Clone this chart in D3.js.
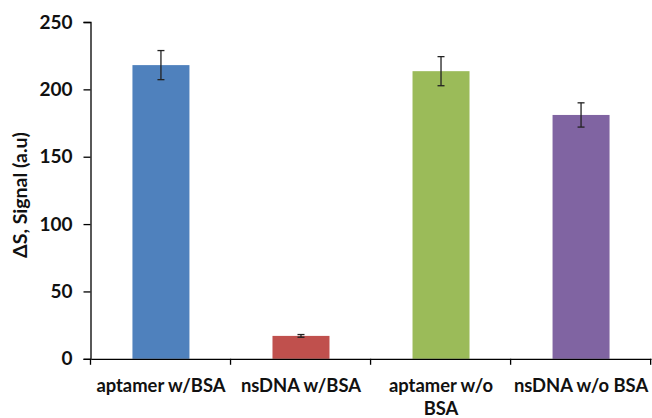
<!DOCTYPE html>
<html><head><meta charset="utf-8">
<script src="https://cdn.jsdelivr.net/npm/d3@7"></script>
<style>body{margin:0;background:#fff}svg{display:block}text{font-family:Lato,"Open Sans",sans-serif;font-weight:bold;fill:#111}</style>
</head><body><svg id="c" width="652" height="418"></svg>
<script>
const categories = ["aptamer w/BSA", "nsDNA w/BSA", "aptamer w/o\nBSA", "nsDNA w/o BSA"];
const values = [218, 17, 213.5, 181];
const errors = [10.8, 1, 10.8, 9];
const colors = ["#4F81BD", "#C0504D", "#9BBB59", "#8064A2"];
const yTicks = [0, 50, 100, 150, 200, 250];
const yTitle = "ΔS, Signal (a.u)";

const svg = d3.select("#c");
const m = {left: 91, right: 651, top: 22, bottom: 358.8};
const x = d3.scaleBand().domain(categories).range([m.left, m.right]).paddingInner(0.593).paddingOuter(0.296);
const y = d3.scaleLinear().domain([0, 250]).range([m.bottom, m.top]);

// bars
svg.selectAll("rect.bar").data(categories).join("rect")
  .attr("x", d => x(d)).attr("width", x.bandwidth())
  .attr("y", (d, i) => y(values[i])).attr("height", (d, i) => y(0) - y(values[i]))
  .attr("fill", (d, i) => colors[i]);

// error bars
const eb = svg.append("g").attr("stroke", "#222").attr("stroke-width", 1.3);
categories.forEach((c, i) => {
  const cx = x(c) + x.bandwidth() / 2;
  eb.append("line").attr("x1", cx).attr("x2", cx).attr("y1", y(values[i] + errors[i])).attr("y2", y(values[i] - errors[i]));
  [1, -1].forEach(s => eb.append("line").attr("x1", cx - 3.5).attr("x2", cx + 3.5)
    .attr("y1", y(values[i] + s * errors[i])).attr("y2", y(values[i] + s * errors[i])));
});

// y axis
const ya = svg.append("g").attr("transform", `translate(${m.left - 0.5},0)`)
  .call(d3.axisLeft(y).tickValues(yTicks).tickSize(7).tickPadding(11));
ya.select(".domain").attr("stroke", "#000").attr("stroke-width", 1.3);
ya.selectAll(".tick line").attr("stroke", "#000").attr("stroke-width", 1.3);
ya.selectAll(".tick text").style("font-size", "19px").style("font-family", "Lato").style("font-weight", "bold").attr("fill", "#111");

// x axis
const xa = svg.append("g").attr("transform", `translate(0,${m.bottom})`)
  .call(d3.axisBottom(x).tickSize(0).tickFormat(""));
xa.select(".domain").attr("stroke", "#000").attr("stroke-width", 1.3);
const step = x.step();
for (let k = 0; k <= categories.length; k++) {
  const tx = m.left - 0.5 + k * step;
  svg.append("line").attr("x1", tx).attr("x2", tx).attr("y1", m.bottom).attr("y2", m.bottom + 6).attr("stroke", "#000").attr("stroke-width", 1.3);
}
categories.forEach(c => {
  const t = svg.append("text").attr("text-anchor", "middle").style("font-size", "18.4px")
    .attr("x", x(c) + x.bandwidth() / 2).attr("y", 392);
  c.split("\n").forEach((ln, j) => t.append("tspan").attr("x", x(c) + x.bandwidth() / 2).attr("dy", j ? 23 : 0).text(ln));
});

// y title
svg.append("text").attr("text-anchor", "middle").style("font-size", "19.5px")
  .attr("transform", `translate(27,195) rotate(-90)`).text(yTitle);
</script></body></html>
